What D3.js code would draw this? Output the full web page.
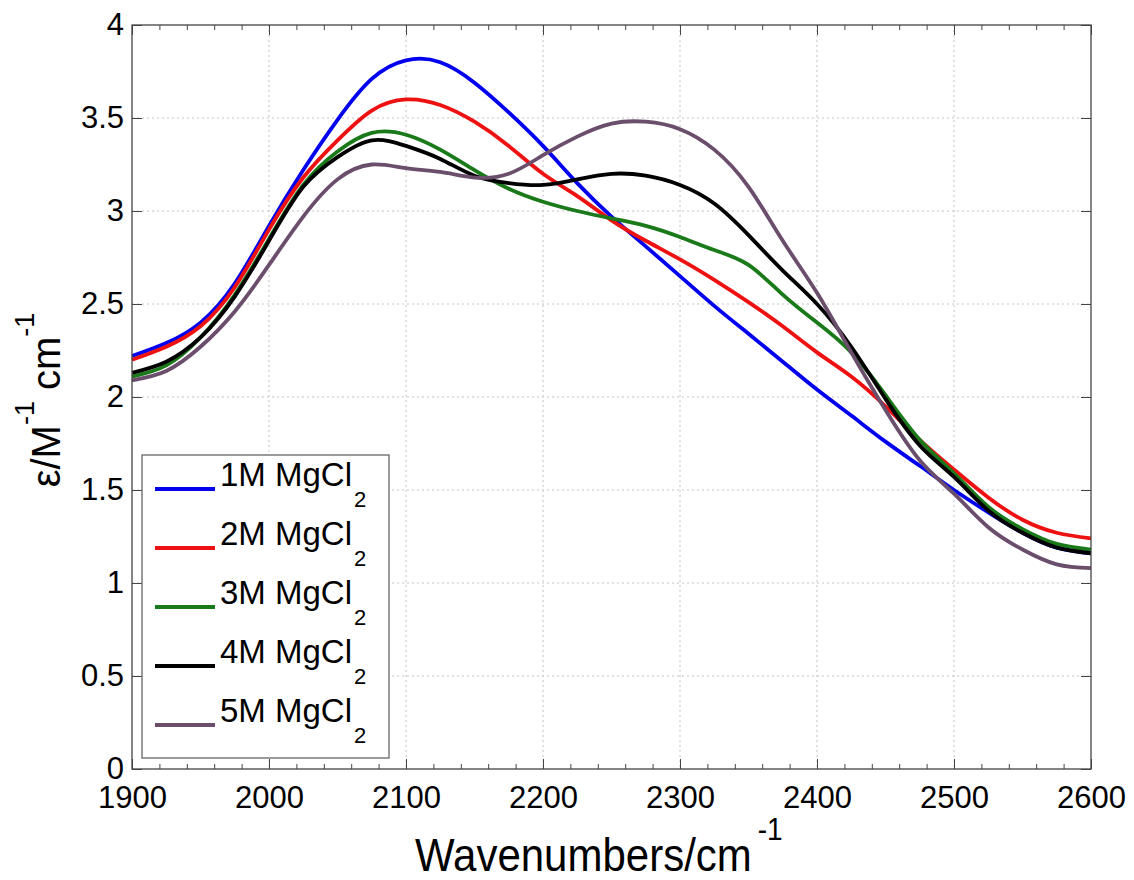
<!DOCTYPE html>
<html>
<head>
<meta charset="utf-8">
<script src="https://cdn.jsdelivr.net/npm/d3@7"></script>
<style>
  body { margin: 0; background: #fff; }
  svg text { font-family: "Liberation Sans", Arial, Helvetica, sans-serif; fill: #000; }
</style>
</head>
<body>
<div id="chart"></div>
<script>
// wavenumbers (cm^-1)
const wavenumbers = [1900, 1925, 1950, 1975, 2000, 2025, 2050, 2075, 2100, 2125, 2150, 2175, 2200, 2225, 2250,
  2275, 2300, 2325, 2350, 2375, 2400, 2425, 2450, 2475, 2500, 2525, 2550, 2575, 2600];

// molar absorptivity per concentration
const mg1 = [2.22, 2.29, 2.40, 2.61, 2.92, 3.22, 3.49, 3.71, 3.81, 3.80, 3.69, 3.53, 3.35, 3.15, 2.97,
  2.81, 2.65, 2.49, 2.34, 2.19, 2.04, 1.90, 1.76, 1.63, 1.50, 1.38, 1.27, 1.19, 1.16];
const mg2 = [2.20, 2.27, 2.38, 2.59, 2.90, 3.18, 3.38, 3.54, 3.60, 3.57, 3.48, 3.35, 3.20, 3.08, 2.95,
  2.84, 2.74, 2.63, 2.51, 2.38, 2.24, 2.11, 1.95, 1.77, 1.61, 1.46, 1.34, 1.27, 1.24];
const mg3 = [2.11, 2.17, 2.32, 2.55, 2.85, 3.14, 3.32, 3.42, 3.41, 3.33, 3.22, 3.12, 3.05, 3.00, 2.96,
  2.92, 2.86, 2.79, 2.71, 2.55, 2.40, 2.24, 2.01, 1.77, 1.59, 1.41, 1.29, 1.21, 1.18];
const mg4 = [2.13, 2.19, 2.32, 2.54, 2.84, 3.13, 3.29, 3.38, 3.35, 3.28, 3.19, 3.15, 3.14, 3.17, 3.20,
  3.19, 3.14, 3.04, 2.87, 2.68, 2.50, 2.27, 1.99, 1.74, 1.57, 1.39, 1.27, 1.19, 1.16];
const mg5 = [2.09, 2.14, 2.27, 2.46, 2.71, 2.97, 3.17, 3.25, 3.23, 3.21, 3.18, 3.20, 3.30, 3.40, 3.47,
  3.48, 3.44, 3.33, 3.13, 2.84, 2.56, 2.24, 1.93, 1.66, 1.48, 1.30, 1.18, 1.10, 1.08];

const seriesNames = ['1M', '2M', '3M', '4M', '5M'];
const seriesColors = ['#0000ee', '#ee1111', '#1a7a1a', '#000000', '#6a4e6c'];
const seriesValues = [mg1, mg2, mg3, mg4, mg5];

const xTicks = [1900, 2000, 2100, 2200, 2300, 2400, 2500, 2600];
const yTicks = [0, 0.5, 1, 1.5, 2, 2.5, 3, 3.5, 4];

const width = 1134, height = 880;
const plot = { left: 132, right: 1091, top: 25, bottom: 769 };

const svg = d3.select('#chart').append('svg')
  .attr('width', width)
  .attr('height', height);

svg.append('rect').attr('width', width).attr('height', height).attr('fill', '#fff');

const x = d3.scaleLinear().domain([1900, 2600]).range([plot.left, plot.right]);
const y = d3.scaleLinear().domain([0, 4]).range([plot.bottom, plot.top]);

// grid
const grid = svg.append('g').attr('class', 'grid')
  .attr('stroke', '#c4c4c4').attr('stroke-width', 1).attr('stroke-dasharray', '2,3');
grid.selectAll('.gx').data(xTicks.slice(1, -1)).enter().append('line')
  .attr('x1', d => x(d)).attr('x2', d => x(d))
  .attr('y1', plot.top).attr('y2', plot.bottom);
grid.selectAll('.gy').data(yTicks.slice(1, -1)).enter().append('line')
  .attr('x1', plot.left).attr('x2', plot.right)
  .attr('y1', d => y(d)).attr('y2', d => y(d));

// curves
const line = d3.line()
  .x(d => x(d[0]))
  .y(d => y(d[1]))
  .curve(d3.curveNatural);

svg.append('g').selectAll('path')
  .data(seriesValues)
  .enter().append('path')
  .attr('fill', 'none')
  .attr('stroke', (d, i) => seriesColors[i])
  .attr('stroke-width', 3.8)
  .attr('stroke-linejoin', 'round')
  .attr('d', vals => line(wavenumbers.map((w, i) => [w, vals[i]])));

// axes (ticks inward, MATLAB-style box)
const minorX = d3.range(1900, 2601, 20).filter(v => v % 100 !== 0);
const axisColor = '#444';

function styleAxis(g) {
  g.select('.domain').remove();
  g.selectAll('line').attr('stroke', axisColor);
  g.selectAll('text').style('font-size', '31px').attr('fill', '#000');
}

svg.append('g')
  .attr('transform', `translate(0,${plot.bottom})`)
  .call(d3.axisBottom(x).tickValues(xTicks).tickSize(-10).tickPadding(17).tickFormat(d3.format('d')))
  .call(styleAxis);
svg.append('g')
  .attr('transform', `translate(0,${plot.bottom})`)
  .call(d3.axisBottom(x).tickValues(minorX).tickSize(-5).tickFormat(''))
  .call(styleAxis);
svg.append('g')
  .attr('transform', `translate(0,${plot.top})`)
  .call(d3.axisTop(x).tickValues(xTicks).tickSize(-10).tickFormat(''))
  .call(styleAxis);
svg.append('g')
  .attr('transform', `translate(0,${plot.top})`)
  .call(d3.axisTop(x).tickValues(minorX).tickSize(-5).tickFormat(''))
  .call(styleAxis);
svg.append('g')
  .attr('transform', `translate(${plot.left},0)`)
  .call(d3.axisLeft(y).tickValues(yTicks).tickSize(-10).tickPadding(8).tickFormat(d3.format('')))
  .call(styleAxis);
svg.append('g')
  .attr('transform', `translate(${plot.right},0)`)
  .call(d3.axisRight(y).tickValues(yTicks).tickSize(-10).tickFormat(''))
  .call(styleAxis);

svg.append('rect')
  .attr('x', plot.left).attr('y', plot.top)
  .attr('width', plot.right - plot.left).attr('height', plot.bottom - plot.top)
  .attr('fill', 'none').attr('stroke', axisColor).attr('stroke-width', 1.3);

// axis titles
const xt = svg.append('text')
  .attr('transform', 'translate(415,871) scale(1,1.12)')
  .style('font-size', '42px');
xt.append('tspan').text('Wavenumbers/cm');
xt.append('tspan').attr('dx', 6).attr('dy', -28).style('font-size', '28px').text('-1');

const yt = svg.append('text')
  .attr('transform', 'translate(60,400) rotate(-90)')
  .attr('text-anchor', 'middle')
  .style('font-size', '40px');
yt.append('tspan').text('ε/M');
yt.append('tspan').attr('dy', -26).style('font-size', '27px').text('-1');
yt.append('tspan').attr('dy', 26).text(' cm');
yt.append('tspan').attr('dy', -26).style('font-size', '27px').text('-1');

// legend
const legend = svg.append('g');
legend.append('rect')
  .attr('x', 142).attr('y', 455).attr('width', 247).attr('height', 303)
  .attr('fill', '#fff').attr('stroke', '#666').attr('stroke-width', 1.3);

const item = legend.selectAll('.item')
  .data(seriesNames)
  .enter().append('g')
  .attr('transform', (d, i) => `translate(0,${489 + i * 59})`);
item.append('line')
  .attr('x1', 155).attr('x2', 215)
  .attr('stroke', (d, i) => seriesColors[i])
  .attr('stroke-width', 4);
const label = item.append('text')
  .attr('x', 220).attr('y', -3)
  .style('font-size', '33px');
label.append('tspan').text(d => `${d} MgCl`);
label.append('tspan').attr('dx', 2).attr('dy', 21).style('font-size', '22px').text('2');
</script>
</body>
</html>
